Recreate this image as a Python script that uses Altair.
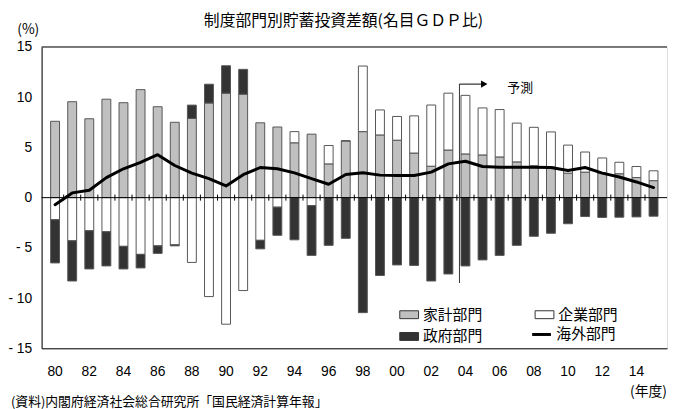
import altair as alt
import pandas as pd

years = list(range(1980, 2016))
household = [7.6, 9.55, 7.85, 9.8, 9.45, 10.75, 9.05, 7.5, 7.88, 9.42, 10.4, 10.3,
             7.45, 7.03, 5.46, 6.32, 3.36, 5.65, 6.57, 6.24, 5.72, 4.44, 3.13, 4.74,
             4.35, 4.25, 4.05, 3.56, 3.17, 3.05, 2.44, 2.54, 2.47, 2.38, 2.0, 1.69]
corporate = [-2.2, -4.3, -3.3, -3.4, -4.85, -5.65, -4.8, -4.7, -6.45, -9.85, -12.6, -9.25,
             -4.25, -0.95, 1.11, -0.8, 1.83, 0.0, 6.53, 2.49, 2.36, 3.7, 6.09, 5.66,
             5.83, 4.68, 4.72, 3.86, 3.83, 3.49, 2.79, 2.0, 1.48, 1.14, 1.1, 0.98]
government = [-4.3, -4.0, -3.8, -3.4, -2.25, -1.35, -0.75, -0.1, 1.33, 1.87, 2.73, 2.47,
              -0.85, -2.8, -4.2, -4.95, -4.75, -4.05, -11.45, -7.75, -6.7, -6.75, -8.3, -7.6,
              -6.8, -6.2, -5.75, -4.75, -3.85, -3.55, -2.6, -1.88, -1.97, -1.95, -1.92, -1.85]
overseas = [-0.7, 0.47, 0.74, 1.99, 2.87, 3.52, 4.28, 3.2, 2.44, 1.89, 1.16, 2.28,
            3.0, 2.87, 2.47, 1.89, 1.33, 2.31, 2.47, 2.24, 2.2, 2.2, 2.54, 3.36,
            3.62, 3.1, 3.03, 3.03, 3.03, 3.0, 2.7, 3.0, 2.44, 2.05, 1.56, 1.0]

sector_names = ["家計部門", "企業部門", "政府部門"]
legend_order = ["家計部門", "政府部門", "企業部門"]
legend_colors = ["#c0c0c0", "#333333", "#ffffff"]
overseas_name = "海外部門"
y_ticks = [-15, -10, -5, 0, 5, 10, 15]
x_label_years = list(range(1980, 2015, 2))
x_labels = [str(y)[2:] for y in x_label_years]

forecast_year = [2003.65]
forecast_top = [11.3]
forecast_bottom = [-8.5]
forecast_arrow_end = [2005.1]
forecast_label_pos = [2007.2]
forecast_label_value = [10.95]
forecast_label = ["予測"]

title_text = "制度部門別貯蓄投資差額(名目ＧＤＰ比)"
source_text = ["(資料)内閣府経済社会総合研究所「国民経済計算年報」"]

JP = "Noto Sans CJK JP"
NUM = "Liberation Sans"

rows = []
for i, yr in enumerate(years):
    for k, (name, vals) in enumerate(zip(sector_names, [household, corporate, government])):
        rows.append({"year": yr, "sector": name, "value": vals[i], "ord": k})
bars_df = pd.DataFrame(rows)
line_df = pd.DataFrame({"year": years, "value": overseas, "series": overseas_name})
tick_df = pd.DataFrame({"year": [y + 0.5 for y in years[:-1]]})
tick_df["value"] = -0.3
tick_df["value2"] = 0.3
xlab_df = pd.DataFrame({"year": x_label_years, "label": x_labels})

x_scale = alt.Scale(domain=[1979.5, 2015.5], nice=False, zero=False)
y_scale = alt.Scale(domain=[-15, 15], nice=False)

x_axis = alt.Axis(values=x_label_years, labels=False, ticks=False, tickSize=0, grid=False,
                  domainColor="black", domainWidth=1,
                  title="(年度)", titleFont=JP, titleFontSize=14, titleFontWeight="normal",
                  titleColor="black", titleX=595, titleY=44, titleAlign="left",
                  titleBaseline="middle")
y_axis = alt.Axis(values=y_ticks, ticks=False, tickSize=0, grid=False, domainColor="black",
                  domainWidth=1, labelFont=NUM, labelFontSize=14, labelColor="black",
                  labelPadding=10,
                  labelExpr="datum.value < 0 ? '- ' + abs(datum.value) : datum.label",
                  title="(%)", titleFont=JP, titleFontSize=14, titleFontWeight="normal",
                  titleColor="black", titleAngle=0, titleX=-14, titleY=-18,
                  titleAlign="center", titleBaseline="middle")

bars = alt.Chart(bars_df).mark_bar(size=9, stroke="#555555", strokeWidth=1).encode(
    x=alt.X("year:Q", scale=x_scale, axis=x_axis),
    y=alt.Y("value:Q", stack="zero", scale=y_scale, axis=y_axis),
    fill=alt.Fill("sector:N", scale=alt.Scale(domain=legend_order, range=legend_colors),
                  legend=alt.Legend(orient="none", legendX=362, legendY=261, columns=2,
                                    columnPadding=50, rowPadding=4, title=None,
                                    symbolType="M-1,-0.42H1V0.42H-1Z", symbolSize=361,
                                    symbolStrokeColor="#333333", symbolStrokeWidth=1,
                                    labelFont=JP, labelFontSize=15, labelColor="black",
                                    labelOffset=4, padding=0)),
    order=alt.Order("ord:Q"),
)

zero_line = alt.Chart(pd.DataFrame({"value": [0]})).mark_rule(color="black", strokeWidth=1).encode(
    y=alt.Y("value:Q"))
top_line = alt.Chart(pd.DataFrame({"value": [15]})).mark_rule(color="black", strokeWidth=1).encode(
    y=alt.Y("value:Q"))
zero_ticks = alt.Chart(tick_df).mark_rule(color="black", strokeWidth=1).encode(
    x=alt.X("year:Q"), y=alt.Y("value:Q"), y2="value2")

line = alt.Chart(line_df).mark_line(strokeWidth=3, strokeJoin="round", strokeCap="round").encode(
    x=alt.X("year:Q"), y=alt.Y("value:Q"),
    stroke=alt.Stroke("series:N", scale=alt.Scale(domain=[overseas_name], range=["black"]),
                      legend=alt.Legend(orient="none", legendX=495, legendY=280, title=None,
                                        symbolType="stroke", symbolSize=361,
                                        symbolStrokeWidth=3, labelFont=JP, labelFontSize=15,
                                        labelColor="black", labelOffset=4, padding=0)),
)

xlabels = alt.Chart(xlab_df).mark_text(font=NUM, fontSize=14, color="black", align="center",
                                       baseline="middle").encode(
    x=alt.X("year:Q"), y=alt.value(329), text="label:N")

fc_df = pd.DataFrame({"year": forecast_year, "year2": forecast_arrow_end,
                      "value": forecast_top, "value2": forecast_bottom})
fc_vert = alt.Chart(fc_df).mark_rule(color="#333333", strokeWidth=1).encode(
    x="year:Q", y="value:Q", y2="value2")
fc_horiz = alt.Chart(fc_df).mark_rule(color="black", strokeWidth=1).encode(
    x="year:Q", x2="year2", y="value:Q")
fc_head = alt.Chart(fc_df).mark_point(shape="triangle-right", filled=True, size=55,
                                      color="black", opacity=1).encode(
    x="year2:Q", y="value:Q")
fc_text = alt.Chart(pd.DataFrame({"year": forecast_label_pos, "value": forecast_label_value,
                                  "label": forecast_label})).mark_text(
    font=JP, fontSize=13, color="black", align="center", baseline="middle").encode(
    x="year:Q", y="value:Q", text="label:N")

source = alt.Chart(pd.DataFrame({"label": source_text})).mark_text(
    font=JP, fontSize=13, color="black", align="left", baseline="middle").encode(
    x=alt.value(-31), y=alt.value(359), text="label:N")

chart = alt.layer(bars, zero_line, top_line, zero_ticks, fc_vert, fc_horiz, fc_head, fc_text,
                  line, xlabels, source).resolve_scale(fill="independent", stroke="independent").properties(
    width=633, height=305,
    autosize=alt.AutoSizeParams(type="none"),
    padding={"left": 34, "top": 37, "right": 2, "bottom": 59},
    title=alt.TitleParams(title_text, font=JP, fontSize=16, fontWeight="normal", color="black",
                          anchor="middle", dx=-11, dy=11, offset=4),
).configure_view(stroke=None).configure(background="white")

chart.save("out.html", embed_options={"renderer": "svg", "actions": False})
